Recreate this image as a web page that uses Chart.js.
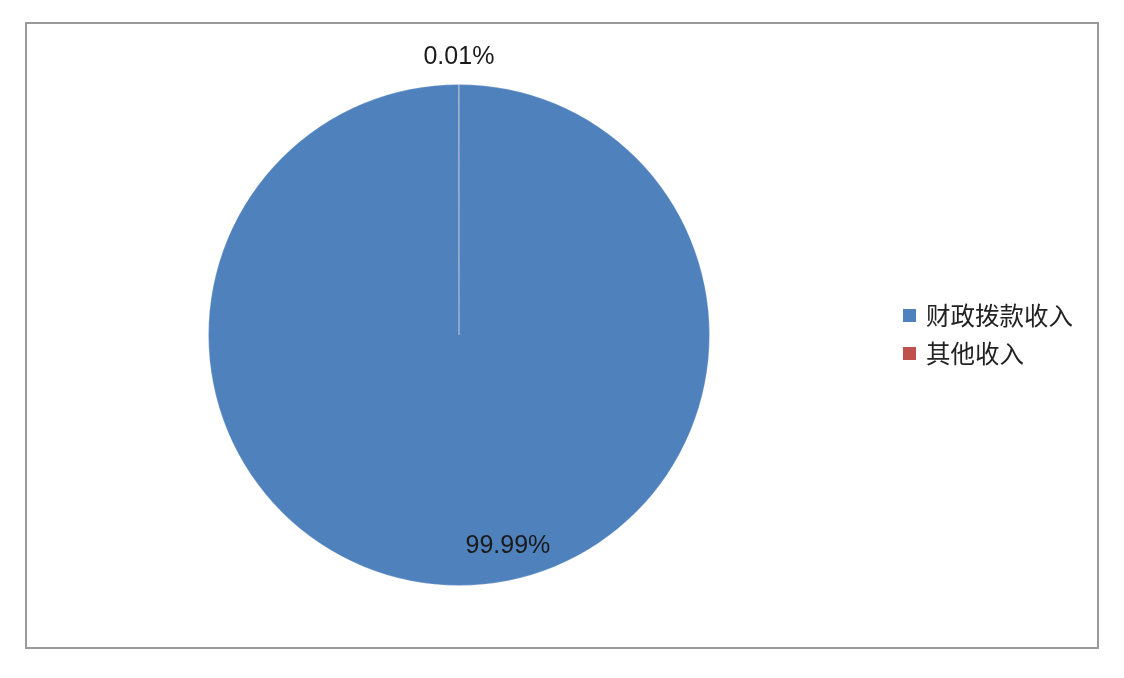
<!DOCTYPE html>
<html>
<head>
<meta charset="utf-8">
<script src="https://cdn.jsdelivr.net/npm/chart.js@4/dist/chart.umd.min.js"></script>
<style>
  html, body { margin: 0; padding: 0; background: #fff; }
  #wrap { width: 1124px; height: 678px; }
</style>
</head>
<body>
<div id="wrap"><canvas id="chart" width="1124" height="678"></canvas></div>
<script>
// 数据
const categories = ['财政拨款收入', '其他收入'];
const shares = [99.99, 0.01];
const colors = ['#4F81BD', '#C0504D'];

// 标签位置微调（半径倍数, 角度偏移度数）
const labelPlace = [
    { r: 0.867, shift: -13 },
    { r: 1.11, shift: 0 }
];

const framePlugin = {
    id: 'frame',
    beforeDraw(chart) {
        const ctx = chart.ctx;
        ctx.save();
        ctx.fillStyle = '#fff';
        ctx.fillRect(0, 0, chart.width, chart.height);
        ctx.strokeStyle = '#9a9a9a';
        ctx.lineWidth = 2;
        ctx.strokeRect(26, 23, 1072, 625);
        ctx.restore();
    }
};

const labelPlugin = {
    id: 'pctLabels',
    afterDatasetsDraw(chart) {
        const ctx = chart.ctx;
        const meta = chart.getDatasetMeta(0);
        ctx.save();
        ctx.font = '25px "Liberation Sans", Arial, sans-serif';
        ctx.fillStyle = '#1a1a1a';
        ctx.textAlign = 'center';
        ctx.textBaseline = 'middle';
        meta.data.forEach((arc, i) => {
            const p = arc.getProps(['x', 'y', 'startAngle', 'endAngle', 'outerRadius'], true);
            const mid = (p.startAngle + p.endAngle) / 2 + labelPlace[i].shift * Math.PI / 180;
            const rr = p.outerRadius * labelPlace[i].r;
            const x = p.x + Math.cos(mid) * rr;
            const y = p.y + Math.sin(mid) * rr;
            ctx.fillText(shares[i].toFixed(2) + '%', x, y);
        });
        ctx.restore();
    }
};

const legendPlugin = {
    id: 'sideLegend',
    afterDraw(chart) {
        const ctx = chart.ctx;
        ctx.save();
        ctx.font = '24.5px "Noto Sans CJK SC", sans-serif';
        ctx.textBaseline = 'middle';
        ctx.textAlign = 'left';
        categories.forEach((name, i) => {
            const cy = 316 + i * 38;
            ctx.fillStyle = colors[i];
            ctx.fillRect(903, cy - 7, 13, 13);
            ctx.fillStyle = '#222';
            ctx.fillText(name, 926, cy);
        });
        ctx.restore();
    }
};

new Chart(document.getElementById('chart').getContext('2d'), {
    type: 'pie',
    data: {
        labels: categories,
        datasets: [{
            data: shares,
            backgroundColor: colors,
            borderColor: 'rgba(255,255,255,0.18)',
            borderWidth: 1
        }]
    },
    options: {
        responsive: false,
        animation: false,
        layout: {
            padding: { left: 208, right: 414, top: 84, bottom: 92 }
        },
        plugins: {
            legend: { display: false },
            tooltip: { enabled: false }
        }
    },
    plugins: [framePlugin, labelPlugin, legendPlugin]
});
</script>
</body>
</html>
